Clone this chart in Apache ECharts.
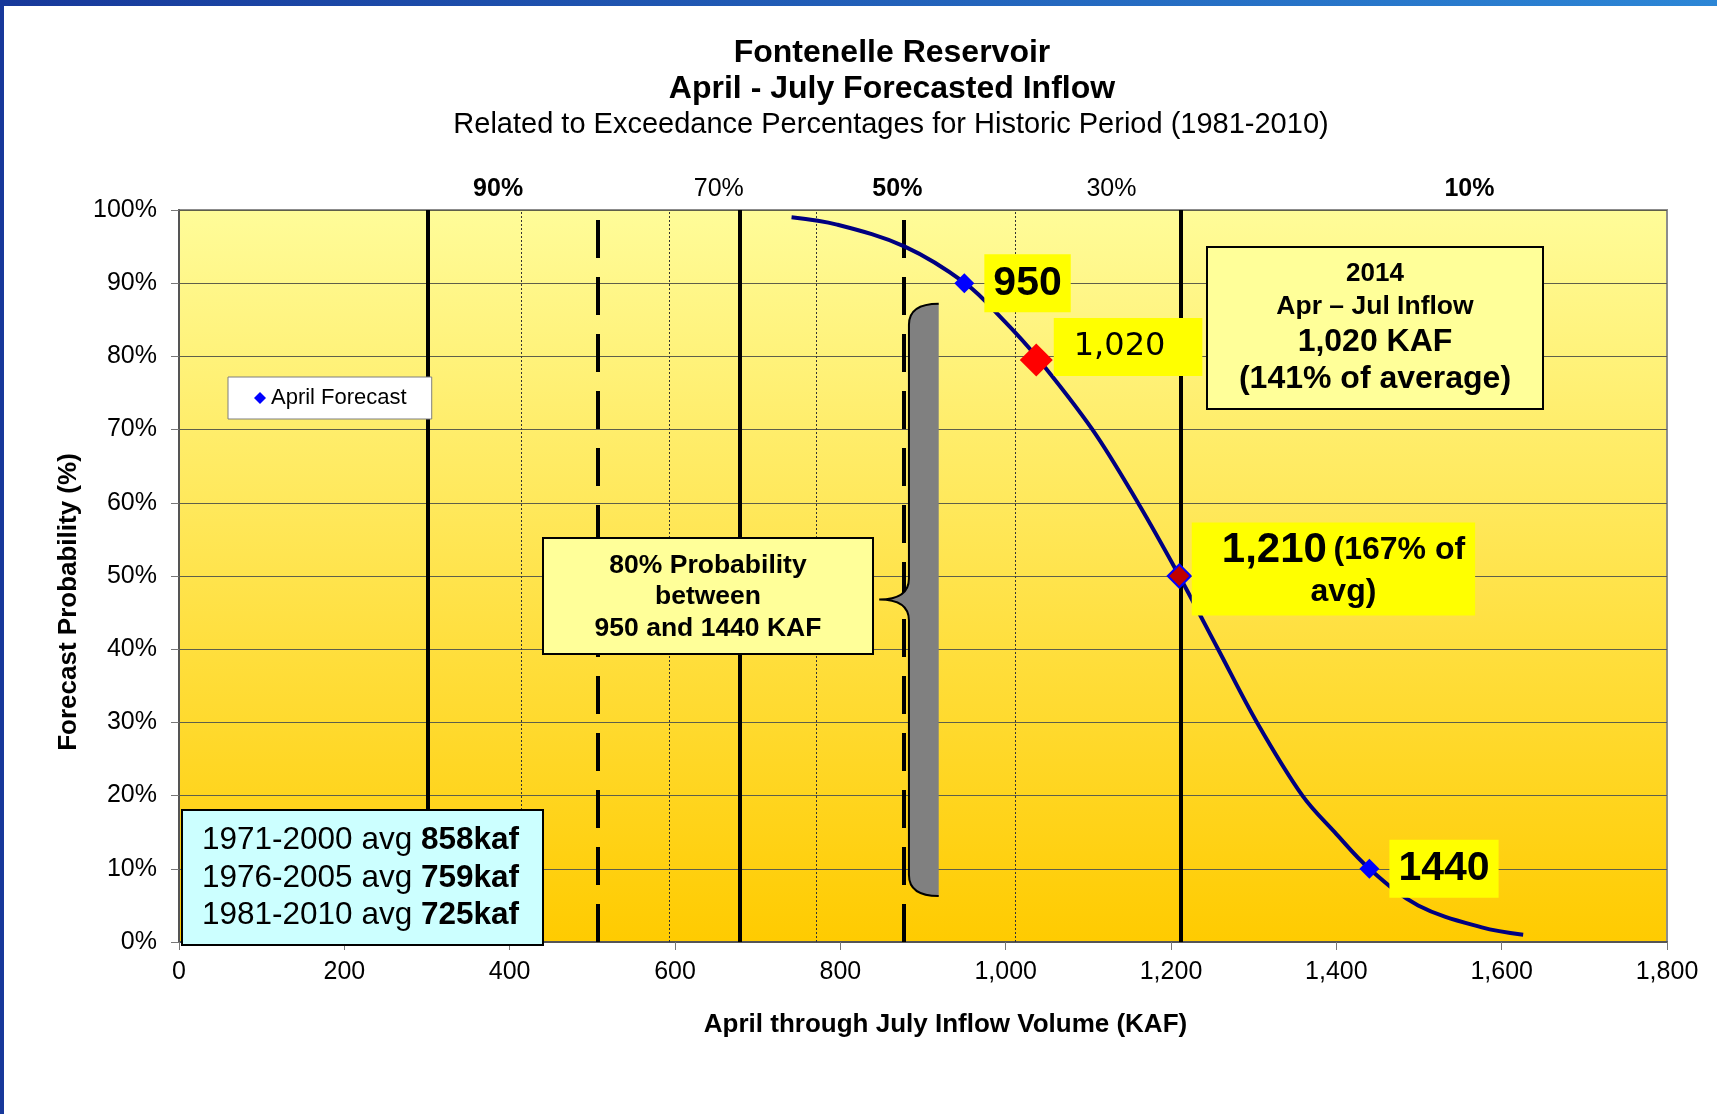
<!DOCTYPE html>
<html>
<head>
<meta charset="utf-8">
<title>Fontenelle Reservoir - April - July Forecasted Inflow</title>
<script src="https://cdn.jsdelivr.net/npm/echarts@6/dist/echarts.min.js"></script>
<style>
  html, body { margin: 0; padding: 0; background: #fff; }
  #chart { width: 1717px; height: 1114px; }
</style>
</head>
<body>
<div id="chart"></div>
<script>
// exceedance curve: inflow volume (KAF) vs forecast probability (%)
const curveVolume = [741, 796, 878, 951, 997, 1037, 1105, 1160, 1210, 1257, 1304, 1359, 1398, 1440, 1499, 1576, 1626];
const curveProb = [99, 98, 95, 90, 85, 80, 70, 60, 50, 40, 30, 20, 15, 10, 5, 2, 1];

// April forecast points (90% and 10%)
const aprilVolume = [950, 1440];
const aprilProb = [90, 10];
const aprilLabels = ['950', '1440'];

// 2014 inflow point
const inflowVolume = [1037];
const inflowProb = [79.5];
const inflowLabels = ['1,020'];

// most probable (50%)
const medianVolume = [1210];
const medianProb = [50];

// historic exceedance lines
const solidLines = [301, 678, 1212];
const dashedLines = [506, 877];
const dottedLines = [414, 593, 771, 1011];

// exceedance headers above the plot
const exceedVolume = [386, 653, 869, 1128, 1561];
const exceedLabels = ['90%', '70%', '50%', '30%', '10%'];
const exceedBold = [true, false, true, false, true];

// brace spanning the 80% range: tip, stem, right edge / top, tip, bottom
const braceVolume = [847, 883, 919];
const braceProb = [87.2, 46.8, 6.3];

// averages box
const avgPeriods = ['1971-2000', '1976-2005', '1981-2010'];
const avgValues = ['858kaf', '759kaf', '725kaf'];

const FONT = "'Liberation Sans', Arial, sans-serif";
const chart = echarts.init(document.getElementById('chart'));

const vLines = []
  .concat(solidLines.map(v => ({ xAxis: v, lineStyle: { type: 'solid', width: 4, color: '#000' } })))
  .concat(dashedLines.map(v => ({ xAxis: v, lineStyle: { type: [38, 19], width: 4, color: '#000' } })))
  .concat(dottedLines.map(v => ({ xAxis: v, lineStyle: { type: [2, 2], width: 1, color: '#333' } })));

const option = {
  animation: false,
  textStyle: { fontFamily: FONT },
  title: [
    { text: 'Fontenelle Reservoir', left: 887, top: 32, textAlign: 'center',
      textStyle: { fontSize: 32, fontWeight: 'bold', color: '#000', fontFamily: FONT } },
    { text: 'April - July Forecasted Inflow', left: 887, top: 68, textAlign: 'center',
      textStyle: { fontSize: 32, fontWeight: 'bold', color: '#000', fontFamily: FONT } },
    { text: 'Related to Exceedance Percentages for Historic Period (1981-2010)', left: 886, top: 105, textAlign: 'center',
      textStyle: { fontSize: 29, fontWeight: 'normal', color: '#000', fontFamily: FONT } }
  ],
  legend: {
    data: [{ name: 'April Forecast', icon: 'diamond' }],
    left: 228,
    top: 377,
    padding: [10, 25, 10, 26],
    itemWidth: 12,
    itemHeight: 12,
    backgroundColor: '#fff',
    borderColor: '#7f7f7f',
    borderWidth: 1,
    selectedMode: false,
    textStyle: { fontSize: 22, color: '#000', fontFamily: FONT }
  },
  grid: {
    left: 179,
    top: 210,
    right: 50,
    bottom: 172,
    show: true,
    outerBoundsMode: 'none',
    backgroundColor: new echarts.graphic.LinearGradient(0, 0, 0, 1, [
      { offset: 0, color: '#FFFC99' },
      { offset: 1, color: '#FFCB00' }
    ]),
    borderColor: '#8c8c8c',
    borderWidth: 2
  },
  xAxis: {
    type: 'value',
    min: 0,
    max: 1800,
    interval: 200,
    name: 'April through July Inflow Volume (KAF)',
    nameLocation: 'middle',
    nameGap: 70,
    nameTextStyle: { fontSize: 26, fontWeight: 'bold', color: '#000', padding: [0, 0, 0, 45] },
    axisLine: { show: true, onZero: false, lineStyle: { color: '#555', width: 2 } },
    axisTick: { show: true, length: 8, lineStyle: { color: '#777' } },
    axisLabel: { fontSize: 25, color: '#000', margin: 18, formatter: v => v.toLocaleString('en-US') },
    splitLine: { show: false }
  },
  yAxis: {
    type: 'value',
    min: 0,
    max: 100,
    interval: 10,
    name: 'Forecast Probability (%)',
    nameLocation: 'middle',
    nameRotate: 90,
    nameGap: 96,
    nameTextStyle: { fontSize: 26, fontWeight: 'bold', color: '#000', padding: [0, 52, 0, 0] },
    axisLine: { show: true, onZero: false, lineStyle: { color: '#555', width: 2 } },
    axisTick: { show: true, length: 8, lineStyle: { color: '#777' } },
    axisLabel: { fontSize: 25, color: '#000', margin: 22, formatter: '{value}%' },
    splitLine: { show: true, lineStyle: { color: '#5f5f4a', width: 1 } }
  },
  graphic: [
    // slide frame
    { type: 'rect', z: 20, shape: { x: 0, y: 0, width: 1717, height: 6 },
      style: { fill: new echarts.graphic.LinearGradient(0, 0, 1, 0, [
        { offset: 0, color: '#17389a' }, { offset: 1, color: '#2c86d6' }]) } },
    { type: 'rect', z: 20, shape: { x: 0, y: 0, width: 4, height: 1114 }, style: { fill: '#17389a' } },
    // 80% probability box
    { type: 'group', x: 543, y: 538, z: 10, children: [
      { type: 'rect', z: 10, shape: { x: 0, y: 0, width: 330, height: 116 },
        style: { fill: '#FFFF99', stroke: '#000', lineWidth: 2 } },
      { type: 'text', z: 11, x: 165, y: 59,
        style: { text: '80% Probability\nbetween\n950 and 1440 KAF', fontFamily: FONT, fontSize: 26.5, fontWeight: 'bold',
          fill: '#000', align: 'center', verticalAlign: 'middle', lineHeight: 31.5 } }
    ] },
    // 2014 summary box
    { type: 'group', x: 1207, y: 247, z: 10, children: [
      { type: 'rect', z: 10, shape: { x: 0, y: 0, width: 336, height: 162 },
        style: { fill: '#FFFF99', stroke: '#000', lineWidth: 2 } },
      { type: 'text', z: 11, x: 168, y: 27,
        style: { text: '2014', fontFamily: FONT, fontSize: 26, fontWeight: 'bold', fill: '#000', align: 'center', verticalAlign: 'middle' } },
      { type: 'text', z: 11, x: 168, y: 60,
        style: { text: 'Apr \u2013 Jul Inflow', fontFamily: FONT, fontSize: 26.5, fontWeight: 'bold', fill: '#000', align: 'center', verticalAlign: 'middle' } },
      { type: 'text', z: 11, x: 168, y: 95,
        style: { text: '1,020 KAF', fontFamily: FONT, fontSize: 32, fontWeight: 'bold', fill: '#000', align: 'center', verticalAlign: 'middle' } },
      { type: 'text', z: 11, x: 168, y: 132,
        style: { text: '(141% of average)', fontFamily: FONT, fontSize: 32, fontWeight: 'bold', fill: '#000', align: 'center', verticalAlign: 'middle' } }
    ] },
    // averages box
    { type: 'group', x: 182, y: 810, z: 10, children: [
      { type: 'rect', z: 10, shape: { x: 0, y: 0, width: 361, height: 135 },
        style: { fill: '#CCFFFF', stroke: '#000', lineWidth: 2 } },
      { type: 'text', z: 11, x: 20, y: 68,
        style: {
          text: avgPeriods.map((p, i) => '{n|' + p + ' avg }{b|' + avgValues[i] + '}').join('\n'),
          align: 'left', verticalAlign: 'middle', fill: '#000',
          rich: {
            n: { fontFamily: FONT, fontSize: 31.5, fontWeight: 'normal', lineHeight: 37.5, fill: '#000' },
            b: { fontFamily: FONT, fontSize: 31.5, fontWeight: 'bold', lineHeight: 37.5, fill: '#000' }
          }
        } }
    ] }
  ],
  series: [
    {
      name: 'Historic exceedance',
      type: 'scatter',
      data: [],
      silent: true,
      z: 1,
      markLine: {
        silent: true,
        symbol: 'none',
        z: 1,
        animation: false,
        label: { show: false },
        data: vLines
      }
    },
    {
      name: 'Range brace',
      type: 'custom',
      silent: true,
      clip: false,
      z: 3,
      data: [[braceVolume[0], braceVolume[1], braceVolume[2], braceProb[0], braceProb[1], braceProb[2]]],
      encode: { x: [0, 1, 2], y: [3, 4, 5] },
      renderItem(params, api) {
        const xp = api.coord([api.value(0), 0])[0];
        const xi = api.coord([api.value(1), 0])[0];
        const xr = api.coord([api.value(2), 0])[0];
        const yt = api.coord([0, api.value(3)])[1];
        const ym = api.coord([0, api.value(4)])[1];
        const yb = api.coord([0, api.value(5)])[1];
        const r = 21;
        const edge = 'M' + xr + ' ' + yt +
          ' Q' + xi + ' ' + yt + ' ' + xi + ' ' + (yt + r) +
          ' L' + xi + ' ' + (ym - r) +
          ' Q' + xi + ' ' + ym + ' ' + xp + ' ' + ym +
          ' Q' + xi + ' ' + ym + ' ' + xi + ' ' + (ym + r) +
          ' L' + xi + ' ' + (yb - r) +
          ' Q' + xi + ' ' + yb + ' ' + xr + ' ' + yb;
        return {
          type: 'group',
          children: [
            { type: 'path', shape: { pathData: edge + ' Z' }, style: { fill: '#808080', stroke: 'none' } },
            { type: 'path', shape: { pathData: edge }, style: { fill: 'none', stroke: '#000', lineWidth: 2 } }
          ]
        };
      }
    },
    {
      name: 'Exceedance curve',
      type: 'line',
      data: curveVolume.map((v, i) => [v, curveProb[i]]),
      smooth: 0.35,
      symbol: 'none',
      showSymbol: false,
      silent: true,
      z: 4,
      lineStyle: { color: '#000080', width: 4 }
    },
    {
      name: 'April Forecast',
      type: 'scatter',
      symbol: 'diamond',
      symbolSize: 20,
      z: 5,
      itemStyle: { color: '#0000FF', opacity: 1 },
      data: aprilVolume.map((v, i) => ({ value: [v, aprilProb[i]], name: aprilLabels[i] })),
      label: {
        show: true,
        position: 'right',
        distance: 10,
        formatter: p => p.name,
        backgroundColor: '#FFFF00',
        padding: [6, 9, 6, 9],
        fontSize: 41,
        fontWeight: 'bold',
        lineHeight: 46,
        color: '#000'
      }
    },
    {
      name: '2014 Inflow',
      type: 'scatter',
      symbol: 'diamond',
      symbolSize: 33,
      z: 6,
      itemStyle: { color: '#FF0000', opacity: 1 },
      data: inflowVolume.map((v, i) => ({ value: [v, inflowProb[i]], name: inflowLabels[i] })),
      label: {
        show: true,
        position: 'right',
        distance: 1,
        offset: [0, -13],
        formatter: p => p.name,
        backgroundColor: '#FFFF00',
        padding: [11, 37, 11, 20],
        fontFamily: 'DejaVu Sans',
        fontSize: 32,
        fontWeight: 'normal',
        lineHeight: 36,
        color: '#000'
      }
    },
    {
      name: 'Most Probable',
      type: 'scatter',
      symbol: 'diamond',
      symbolSize: 23,
      z: 6,
      itemStyle: { color: '#C00000', borderColor: '#0000FF', borderWidth: 2, opacity: 1 },
      data: medianVolume.map((v, i) => [v, medianProb[i]]),
      label: {
        show: true,
        position: 'right',
        distance: 0,
        offset: [0, -7],
        formatter: '{a|1,210}  {b|(167% of}\n{b|avg)}',
        backgroundColor: '#FFFF00',
        padding: [4, 10, 5, 30],
        color: '#000',
        rich: {
          a: { fontSize: 42, fontWeight: 'bold', lineHeight: 48, align: 'center', color: '#000' },
          b: { fontSize: 32, fontWeight: 'bold', lineHeight: 36, align: 'center', color: '#000' }
        }
      }
    },
    {
      name: 'Exceedance headers',
      type: 'scatter',
      silent: true,
      clip: false,
      symbolSize: 1,
      itemStyle: { color: 'rgba(0,0,0,0)', opacity: 1 },
      z: 6,
      data: exceedVolume.map((v, i) => ({
        value: [v, 100],
        label: { fontWeight: exceedBold[i] ? 'bold' : 'normal' }
      })),
      label: {
        show: true,
        position: 'top',
        distance: 8,
        formatter: p => exceedLabels[p.dataIndex],
        fontSize: 25,
        color: '#000'
      }
    }
  ]
};

chart.setOption(option);
</script>
</body>
</html>
